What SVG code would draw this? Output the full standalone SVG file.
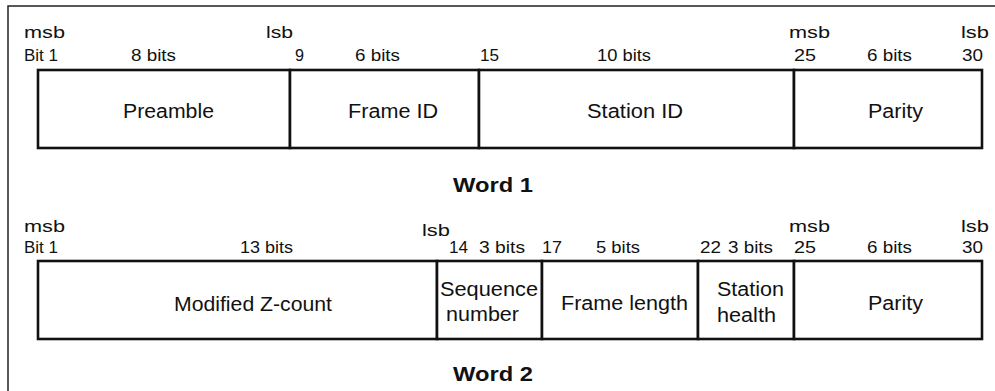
<svg xmlns="http://www.w3.org/2000/svg" width="995" height="391" viewBox="0 0 995 391">
  <style>
    .frame { fill: none; stroke: #222; stroke-width: 1.5; }
    .field { fill: #fff; stroke: #111; stroke-width: 2.6; }
    text { font-family: "Liberation Sans", Arial, sans-serif; fill: #111; }
    .lbl { font-size: 16.5px; }
    .name { font-size: 20px; }
    .word { font-size: 21px; font-weight: bold; }
  </style>
  <rect width="995" height="391" fill="#fff"/>
  <!-- outer frame (left and top edges visible) -->
  <rect class="frame" x="8" y="6" width="1000" height="400"/>

  <!-- Word 1 -->
  <g id="word1">
    <g id="w1-bits">
      <text class="lbl" x="24" y="38" textLength="41" lengthAdjust="spacingAndGlyphs">msb</text>
      <text class="lbl" x="24" y="61" textLength="34" lengthAdjust="spacingAndGlyphs">Bit 1</text>
      <text class="lbl" x="131" y="61" textLength="45" lengthAdjust="spacingAndGlyphs">8 bits</text>
      <text class="lbl" x="266" y="38" textLength="27" lengthAdjust="spacingAndGlyphs">lsb</text>
      <text class="lbl" x="295" y="61" textLength="9" lengthAdjust="spacingAndGlyphs">9</text>
      <text class="lbl" x="355" y="61" textLength="45" lengthAdjust="spacingAndGlyphs">6 bits</text>
      <text class="lbl" x="480" y="61" textLength="19" lengthAdjust="spacingAndGlyphs">15</text>
      <text class="lbl" x="597" y="61" textLength="54" lengthAdjust="spacingAndGlyphs">10 bits</text>
      <text class="lbl" x="789" y="38" textLength="41" lengthAdjust="spacingAndGlyphs">msb</text>
      <text class="lbl" x="794" y="61" textLength="22" lengthAdjust="spacingAndGlyphs">25</text>
      <text class="lbl" x="867" y="61" textLength="45" lengthAdjust="spacingAndGlyphs">6 bits</text>
      <text class="lbl" x="961" y="38" textLength="28" lengthAdjust="spacingAndGlyphs">lsb</text>
      <text class="lbl" x="962" y="61" textLength="21" lengthAdjust="spacingAndGlyphs">30</text>
    </g>
    <g id="w1-preamble">
      <rect class="field" x="38" y="70" width="252" height="78"/>
      <text class="name" x="123" y="118" textLength="91" lengthAdjust="spacingAndGlyphs">Preamble</text>
    </g>
    <g id="w1-frame-id">
      <rect class="field" x="290" y="70" width="189" height="78"/>
      <text class="name" x="348" y="118" textLength="90" lengthAdjust="spacingAndGlyphs">Frame ID</text>
    </g>
    <g id="w1-station-id">
      <rect class="field" x="479" y="70" width="315" height="78"/>
      <text class="name" x="587" y="118" textLength="96" lengthAdjust="spacingAndGlyphs">Station ID</text>
    </g>
    <g id="w1-parity">
      <rect class="field" x="794" y="70" width="188" height="78"/>
      <text class="name" x="868" y="118" textLength="55" lengthAdjust="spacingAndGlyphs">Parity</text>
    </g>
    <text class="word" x="453" y="192" textLength="80" lengthAdjust="spacingAndGlyphs">Word 1</text>
  </g>

  <!-- Word 2 -->
  <g id="word2">
    <g id="w2-bits">
      <text class="lbl" x="24" y="232" textLength="41" lengthAdjust="spacingAndGlyphs">msb</text>
      <text class="lbl" x="24" y="253" textLength="34" lengthAdjust="spacingAndGlyphs">Bit 1</text>
      <text class="lbl" x="240" y="253" textLength="53" lengthAdjust="spacingAndGlyphs">13 bits</text>
      <text class="lbl" x="422" y="236" textLength="28" lengthAdjust="spacingAndGlyphs">lsb</text>
      <text class="lbl" x="449" y="253" textLength="19" lengthAdjust="spacingAndGlyphs">14</text>
      <text class="lbl" x="479" y="253" textLength="46" lengthAdjust="spacingAndGlyphs">3 bits</text>
      <text class="lbl" x="542" y="253" textLength="20" lengthAdjust="spacingAndGlyphs">17</text>
      <text class="lbl" x="596" y="253" textLength="44" lengthAdjust="spacingAndGlyphs">5 bits</text>
      <text class="lbl" x="700" y="253" textLength="21" lengthAdjust="spacingAndGlyphs">22</text>
      <text class="lbl" x="728" y="253" textLength="45" lengthAdjust="spacingAndGlyphs">3 bits</text>
      <text class="lbl" x="789" y="232" textLength="41" lengthAdjust="spacingAndGlyphs">msb</text>
      <text class="lbl" x="794" y="253" textLength="22" lengthAdjust="spacingAndGlyphs">25</text>
      <text class="lbl" x="867" y="253" textLength="45" lengthAdjust="spacingAndGlyphs">6 bits</text>
      <text class="lbl" x="961" y="232" textLength="28" lengthAdjust="spacingAndGlyphs">lsb</text>
      <text class="lbl" x="962" y="253" textLength="21" lengthAdjust="spacingAndGlyphs">30</text>
    </g>
    <g id="w2-z-count">
      <rect class="field" x="38" y="261" width="399" height="78"/>
      <text class="name" x="174" y="311" textLength="158" lengthAdjust="spacingAndGlyphs">Modified Z-count</text>
    </g>
    <g id="w2-sequence">
      <rect class="field" x="437" y="261" width="105" height="78"/>
      <text class="name" x="440" y="296" textLength="98" lengthAdjust="spacingAndGlyphs">Sequence</text>
      <text class="name" x="446" y="321" textLength="73" lengthAdjust="spacingAndGlyphs">number</text>
    </g>
    <g id="w2-frame-length">
      <rect class="field" x="542" y="261" width="156" height="78"/>
      <text class="name" x="561" y="310" textLength="127" lengthAdjust="spacingAndGlyphs">Frame length</text>
    </g>
    <g id="w2-station-health">
      <rect class="field" x="698" y="261" width="96" height="78"/>
      <text class="name" x="717" y="296" textLength="67" lengthAdjust="spacingAndGlyphs">Station</text>
      <text class="name" x="717" y="322" textLength="59" lengthAdjust="spacingAndGlyphs">health</text>
    </g>
    <g id="w2-parity">
      <rect class="field" x="794" y="261" width="188" height="78"/>
      <text class="name" x="868" y="310" textLength="55" lengthAdjust="spacingAndGlyphs">Parity</text>
    </g>
    <text class="word" x="453" y="381" textLength="80" lengthAdjust="spacingAndGlyphs">Word 2</text>
  </g>
</svg>
